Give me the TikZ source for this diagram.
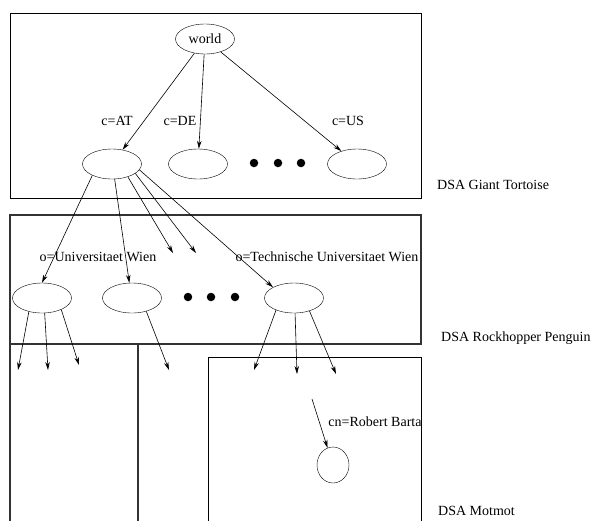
\documentclass[tikz,border=0pt]{standalone}
\usepackage{fontspec}
\setmainfont{Liberation Serif}
\usetikzlibrary{shapes.geometric,arrows.meta}

\begin{document}
\begin{tikzpicture}[x=1pt,y=-1pt,
    entry/.style={draw, ellipse, minimum width=59, minimum height=30, inner sep=0},
    leafentry/.style={draw, ellipse, minimum width=32, minimum height=36, inner sep=0},
    rdn/.style={inner sep=0, font=\fontsize{14}{16}\selectfont},
    link/.style={line width=0.6pt, -{Stealth[length=8pt,width=4.5pt]}},
    dot/.style={fill, circle, minimum size=8.5, inner sep=0},
    dsabox/.style={line width=0.8pt},
    dsawall/.style={line width=1.3pt, black!80}]
    \useasboundingbox (0,0) rectangle (591,520);

    % DSA boxes
    \draw[dsabox] (10,13) rectangle (421,198);
    \draw[dsawall] (10,215) rectangle (421,344);
    \draw[dsawall] (10,344) -- (10,525);
    \draw[dsawall] (138,344) -- (138,525);
    \draw[dsabox] (208,525) -- (208,357) -- (421,357) -- (421,525);

    \node[rdn, anchor=west] (tortoise) at (437,185) {DSA Giant Tortoise};
    \node[rdn, anchor=west] (penguin) at (441,338) {DSA Rockhopper Penguin};
    \node[rdn, anchor=base west] (motmot) at (438,515.5) {DSA Motmot};

    % top level
    \node[entry] (world) at (205,39) {\fontsize{14}{16}\selectfont world};
    \node[entry] (at) at (112,164) {};
    \node[entry] (de) at (198,164) {};
    \node[entry] (us) at (357,164) {};
    \node[dot] (d1) at (254,163) {};
    \node[dot] (d2) at (278,163) {};
    \node[dot] (d3) at (301,163) {};

    \draw[link] (world) -- (at);
    \draw[link] (world) -- (de);
    \draw[link] (world) -- (us);
    \node[rdn] (lat) at (117,121) {c=AT};
    \node[rdn] (lde) at (180,121) {c=DE};
    \node[rdn] (lus) at (348,121) {c=US};

    % organisations
    \node[entry] (uw) at (42,298) {};
    \node[entry] (ow) at (132,298) {};
    \node[entry] (tu) at (294,298) {};
    \node[dot] (d4) at (188,297) {};
    \node[dot] (d5) at (211,297) {};
    \node[dot] (d6) at (235,297) {};
    \coordinate (o1) at (173,253);
    \coordinate (o2) at (196,253);

    \draw[link] (at.210) -- (uw.north);
    \draw[link] (at.-80) -- (ow.100);
    \draw[link] (at.-39) -- (o1);
    \draw[link] (at.-22) -- (o2);
    \draw[link] (at.-12) -- (tu.north west);
    \node[rdn] (luw) at (98,257) {o=Universitaet Wien};
    \node[rdn] (ltu) at (327,257) {o=Technische Universitaet Wien};

    % into the lower DSAs
    \coordinate (u1) at (18,370);
    \coordinate (u2) at (48,370);
    \coordinate (u3) at (79,365);
    \coordinate (w1) at (169,370);
    \coordinate (t1) at (254,370);
    \coordinate (t2) at (297,374);
    \coordinate (t3) at (336,374);
    \draw[link] (uw.226) -- (u1);
    \draw[link] (uw.-80) -- (u2);
    \draw[link] (uw.-31) -- (u3);
    \draw[link] (ow.-43) -- (w1);
    \draw[link] (tu.214) -- (t1);
    \draw[link] (tu.-86) -- (t2);
    \draw[link] (tu.-40) -- (t3);

    % person
    \coordinate (p0) at (312,399);
    \node[leafentry] (rb) at (333,465) {};
    \draw[link] (p0) -- (rb);
    \node[rdn] (lrb) at (375,422) {cn=Robert Barta};
\end{tikzpicture}
\end{document}
